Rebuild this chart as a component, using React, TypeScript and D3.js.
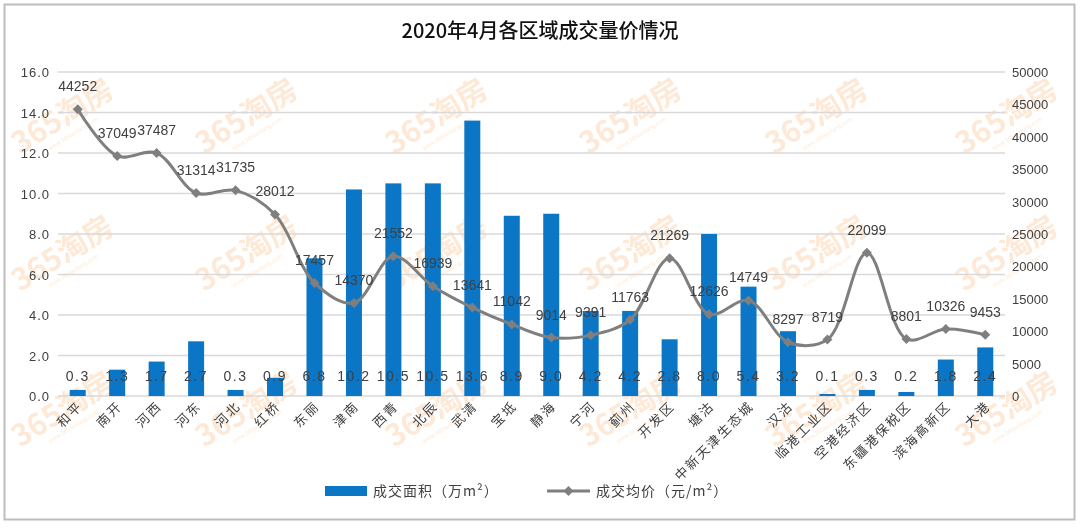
import React from "react";
import * as d3 from "d3";

const categories = ["和平", "南开", "河西", "河东", "河北", "红桥", "东丽", "津南", "西青", "北辰", "武清", "宝坻", "静海", "宁河", "蓟州", "开发区", "塘沽", "中新天津生态城", "汉沽", "临港工业区", "空港经济区", "东疆港保税区", "滨海高新区", "大港"];
const areaValues = [0.3, 1.3, 1.7, 2.7, 0.3, 0.9, 6.8, 10.2, 10.5, 10.5, 13.6, 8.9, 9.0, 4.2, 4.2, 2.8, 8.0, 5.4, 3.2, 0.1, 0.3, 0.2, 1.8, 2.4];
const priceValues = [44252, 37049, 37487, 31314, 31735, 28012, 17457, 14370, 21552, 16939, 13641, 11042, 9014, 9391, 11763, 21269, 12626, 14749, 8297, 8719, 22099, 8801, 10326, 9453];
const leftTicks = [0, 2, 4, 6, 8, 10, 12, 14, 16];
const rightTicks = [0, 5000, 10000, 15000, 20000, 25000, 30000, 35000, 40000, 45000, 50000];
const title = "2020年4月各区域成交量价情况";
const legendArea = "成交面积（万m²）";
const legendPrice = "成交均价（元/m²）";
const watermarkCols = [68, 252, 442, 636, 822, 1012];
const watermarkRows = [125, 262, 418];

const W = 1080;
const H = 528;
const M = { left: 58, right: 1005, top: 72, bottom: 396 };
const BLUE = "#0b76c6";
const GRAY = "#7f7f7f";
const TXT = "#404040";
const CJK = "'Noto Sans CJK SC', sans-serif";
const NUM = "'Liberation Sans', Arial, sans-serif";

export default function App() {
  const band = d3.scaleBand<string>().domain(categories).range([M.left, M.right]);
  const cx = (c: string) => (band(c) as number) + band.bandwidth() / 2;
  const barW = 16;
  const yL = d3.scaleLinear().domain([0, 16]).range([M.bottom, M.top]);
  const yR = d3.scaleLinear().domain([0, 50000]).range([M.bottom, M.top]);
  const line = d3
    .line<number>()
    .x((_, i) => cx(categories[i]))
    .y((d) => yR(d))
    .curve(d3.curveCatmullRom.alpha(0.5));
  const lineD = line(priceValues) || "";

  return (
    <svg width={W} height={H} style={{ position: "absolute", left: 0, top: 0, background: "#fff" }}>
      <rect x={0} y={0} width={W} height={H} fill="#fff" />
      <rect x={4.5} y={4.5} width={1070} height={515} fill="none" stroke="#bdbdbd" strokeWidth={2} />
      {/* watermarks */}
      <g opacity={0.22}>
        {watermarkRows.map((ry) =>
          watermarkCols.map((wx) => (
            <g key={`${wx}-${ry}`} transform={`translate(${wx},${ry}) rotate(-32)`}>
              <text x={0} y={0} textAnchor="middle" fontFamily={CJK} fontWeight={700} fontSize={30} fill="#f59a45">
                365淘房
              </text>
              <text x={0} y={12} textAnchor="middle" fontFamily={NUM} fontSize={6} fill="#f59a45">
                www.365taofang.com
              </text>
            </g>
          ))
        )}
      </g>
      <text x={540} y={38} textAnchor="middle" fontFamily={CJK} fontSize={20} fontWeight={500} fill="#111">
        {title}
      </text>
      {/* gridlines */}
      {leftTicks.map((t) => (
        <line key={t} x1={M.left} x2={M.right} y1={yL(t)} y2={yL(t)} stroke="#d9d9d9" strokeWidth={1.5} />
      ))}
      {/* left axis labels */}
      {leftTicks.map((t) => (
        <text key={t} x={50} y={yL(t) + 5} textAnchor="end" fontFamily={NUM} fontSize={13} fill={TXT} letterSpacing={1}>
          {t.toFixed(1)}
        </text>
      ))}
      {/* right axis labels */}
      {rightTicks.map((t) => (
        <text key={t} x={1012} y={yR(t) + 5} textAnchor="start" fontFamily={NUM} fontSize={13} fill={TXT}>
          {t}
        </text>
      ))}
      {/* bars */}
      {categories.map((c, i) => (
        <rect key={c} x={cx(c) - barW / 2} y={yL(areaValues[i])} width={barW} height={M.bottom - yL(areaValues[i])} fill={BLUE} />
      ))}
      {/* bar labels */}
      {categories.map((c, i) => (
        <text key={c} x={cx(c)} y={381} textAnchor="middle" fontFamily={NUM} fontSize={14} fill={TXT} letterSpacing={1.5}>
          {areaValues[i].toFixed(1)}
        </text>
      ))}
      {/* line */}
      <path d={lineD} fill="none" stroke={GRAY} strokeWidth={3} />
      {categories.map((c, i) => {
        const px = cx(c);
        const py = yR(priceValues[i]);
        return <path key={c} d={`M${px},${py - 5}L${px + 5},${py}L${px},${py + 5}L${px - 5},${py}Z`} fill={GRAY} />;
      })}
      {categories.map((c, i) => (
        <text key={c} x={cx(c)} y={yR(priceValues[i]) - 18} textAnchor="middle" fontFamily={NUM} fontSize={14} fill={TXT}>
          {priceValues[i]}
        </text>
      ))}
      {/* x labels */}
      {categories.map((c) => (
        <text
          key={c}
          transform={`translate(${cx(c) + 6},${407}) rotate(-45)`}
          textAnchor="end"
          fontFamily={CJK}
          fontSize={13}
          fill={TXT}
          letterSpacing={2}
        >
          {c}
        </text>
      ))}
      {/* legend */}
      <rect x={325} y={486} width={42} height={10} fill={BLUE} />
      <text x={373} y={496} fontFamily={CJK} fontSize={14} fill={TXT} letterSpacing={1}>
        {legendArea}
      </text>
      <line x1={547} x2={590} y1={491} y2={491} stroke={GRAY} strokeWidth={3} />
      <path d="M568.5,486L573.5,491L568.5,496L563.5,491Z" fill={GRAY} />
      <text x={596} y={496} fontFamily={CJK} fontSize={14} fill={TXT} letterSpacing={1}>
        {legendPrice}
      </text>
    </svg>
  );
}
